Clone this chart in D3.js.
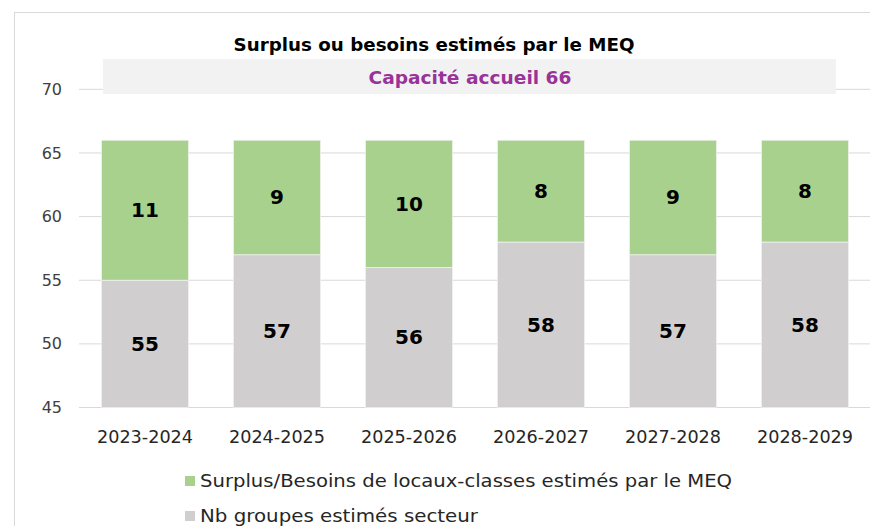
<!DOCTYPE html>
<html>
<head>
<meta charset="utf-8">
<script src="https://cdn.jsdelivr.net/npm/d3@7"></script>
<style>
  body { margin: 0; background: #fff; }
  svg { display: block; font-family: "DejaVu Sans", sans-serif; }
</style>
</head>
<body>
<svg width="870" height="526"></svg>
<script>
// data
const years = ['2023-2024', '2024-2025', '2025-2026', '2026-2027', '2027-2028', '2028-2029'];
const groupes = [55, 57, 56, 58, 57, 58];
const surplus = [11, 9, 10, 8, 9, 8];
const yTicks = [45, 50, 55, 60, 65, 70];
const seriesNames = ['Surplus/Besoins de locaux-classes estimés par le MEQ', 'Nb groupes estimés secteur'];
const seriesColors = ['#A9D18E', '#D0CECE'];
const capacite = 66;

// widths of the texts in the original (its font is wider than ours)
const legendWidths = [532, 278];

const svg = d3.select('svg');

// chart frame (runs off the right and bottom edges)
svg.append('rect')
  .attr('x', 14.5).attr('y', 12.5)
  .attr('width', 1000).attr('height', 700)
  .attr('fill', '#fff').attr('stroke', '#d9d9d9');

const x = d3.scaleBand().domain(years).range([79, 871]).paddingInner(0.34).paddingOuter(0.17);
const y = d3.scaleLinear().domain([45, 70]).range([407.5, 89.3]);

// gridlines
svg.append('g').selectAll('line')
  .data(yTicks)
  .join('line')
  .attr('x1', 79).attr('x2', 871)
  .attr('y1', d => y(d)).attr('y2', d => y(d))
  .attr('stroke', '#d9d9d9').attr('stroke-width', 1);

// y axis labels
svg.append('g').selectAll('text')
  .data(yTicks)
  .join('text')
  .attr('x', 62).attr('y', d => y(d))
  .attr('dy', '0.35em')
  .attr('text-anchor', 'end')
  .attr('font-size', 16)
  .attr('fill', '#404040')
  .text(d => d);

// stacked bars
const stackData = years.map((yr, i) => ({ year: yr, groupes: groupes[i], surplus: surplus[i] }));

const bars = svg.append('g');
bars.selectAll('rect.gris')
  .data(stackData)
  .join('rect')
  .attr('class', 'gris')
  .attr('x', d => x(d.year))
  .attr('width', x.bandwidth())
  .attr('y', d => y(d.groupes))
  .attr('height', d => y(45) - y(d.groupes))
  .attr('fill', seriesColors[1])
  .attr('stroke', '#f2f2f2').attr('stroke-width', 0.75);

bars.selectAll('rect.vert')
  .data(stackData)
  .join('rect')
  .attr('class', 'vert')
  .attr('x', d => x(d.year))
  .attr('width', x.bandwidth())
  .attr('y', d => y(d.groupes + d.surplus))
  .attr('height', d => y(d.groupes) - y(d.groupes + d.surplus))
  .attr('fill', seriesColors[0])
  .attr('stroke', '#f2f2f2').attr('stroke-width', 0.75);

// value labels
const labels = svg.append('g')
  .attr('font-size', 20).attr('font-weight', 'bold')
  .attr('text-anchor', 'middle').attr('fill', '#000');

labels.selectAll('text.g')
  .data(stackData)
  .join('text')
  .attr('x', d => x(d.year) + x.bandwidth() / 2)
  .attr('y', d => y((45 + d.groupes) / 2))
  .attr('dy', '0.35em')
  .text(d => d.groupes);

labels.selectAll('text.s')
  .data(stackData)
  .join('text')
  .attr('x', d => x(d.year) + x.bandwidth() / 2)
  .attr('y', d => y(d.groupes + d.surplus / 2))
  .attr('dy', '0.35em')
  .text(d => d.surplus);

// x axis labels
svg.append('g').selectAll('text')
  .data(years)
  .join('text')
  .attr('x', d => x(d) + x.bandwidth() / 2)
  .attr('y', 437)
  .attr('dy', '0.35em')
  .attr('text-anchor', 'middle')
  .attr('font-size', 17)
  .attr('fill', '#262626')
  .attr('textLength', 96).attr('lengthAdjust', 'spacingAndGlyphs')
  .text(d => d);

// title
svg.append('text')
  .attr('x', 434).attr('y', 45)
  .attr('dy', '0.35em')
  .attr('text-anchor', 'middle')
  .attr('font-size', 18).attr('font-weight', 'bold')
  .attr('fill', '#000')
  .attr('textLength', 401).attr('lengthAdjust', 'spacingAndGlyphs')
  .text('Surplus ou besoins estimés par le MEQ');

// capacity box
svg.append('rect')
  .attr('x', 103).attr('y', 59)
  .attr('width', 733).attr('height', 35)
  .attr('fill', '#f2f2f2');
svg.append('text')
  .attr('x', 470).attr('y', 78)
  .attr('dy', '0.35em')
  .attr('text-anchor', 'middle')
  .attr('font-size', 18).attr('font-weight', 'bold')
  .attr('fill', '#993399')
  .attr('textLength', 203).attr('lengthAdjust', 'spacingAndGlyphs')
  .text('Capacité accueil ' + capacite);

// legend
const legend = svg.append('g').selectAll('g')
  .data(seriesNames)
  .join('g')
  .attr('transform', (d, i) => `translate(185, ${481 + i * 35})`);
legend.append('rect')
  .attr('x', 0).attr('y', -5)
  .attr('width', 10).attr('height', 10)
  .attr('fill', (d, i) => seriesColors[i]);
legend.append('text')
  .attr('x', 15).attr('y', 0)
  .attr('dy', '0.35em')
  .attr('font-size', 18)
  .attr('fill', '#262626')
  .attr('textLength', (d, i) => legendWidths[i]).attr('lengthAdjust', 'spacingAndGlyphs')
  .text(d => d);
</script>
</body>
</html>
